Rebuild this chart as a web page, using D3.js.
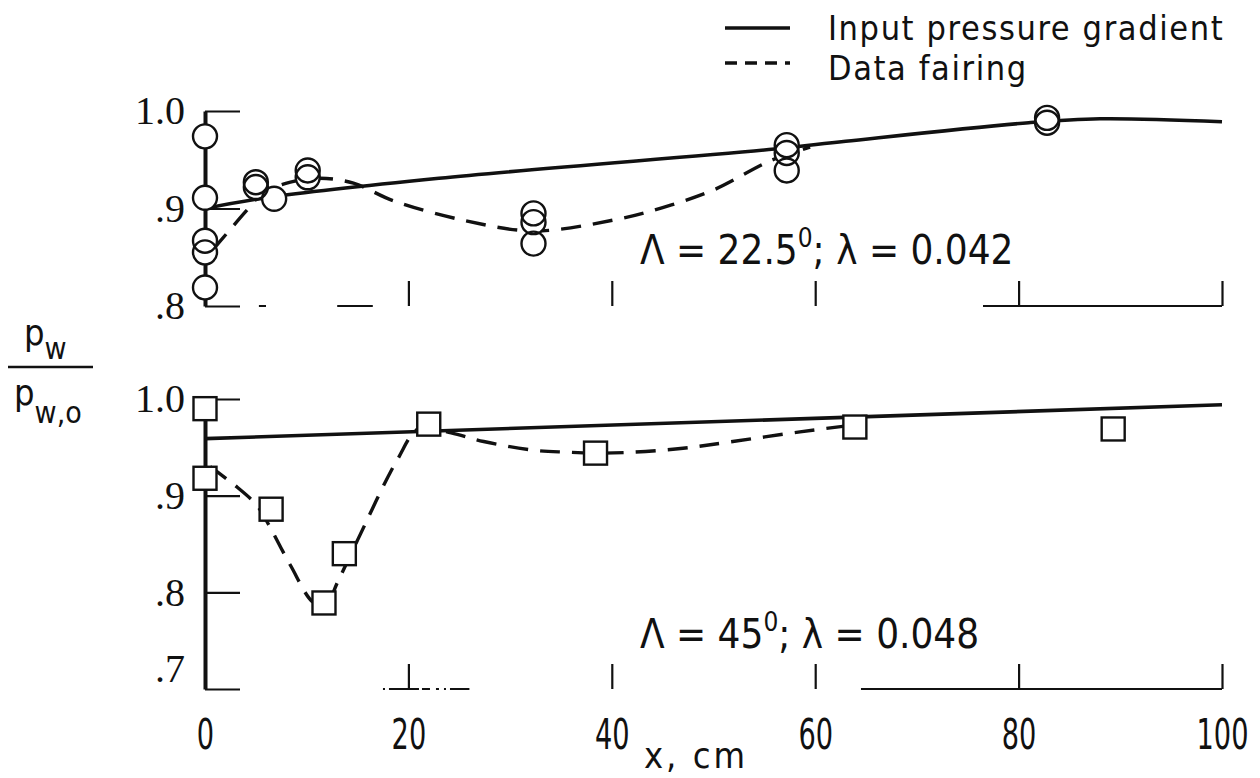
<!DOCTYPE html>
<html>
<head>
<meta charset="utf-8">
<script src="https://cdn.jsdelivr.net/npm/d3@7"></script>
<style>
  body { margin: 0; background: #fff; }
  svg text { fill: #111; }
  .cond { font-family: "DejaVu Sans Condensed", "Liberation Sans Narrow", "DejaVu Sans", sans-serif; font-stretch: condensed; }
  .serif { font-family: "Liberation Serif", "DejaVu Serif", serif; }
</style>
</head>
<body>
<svg id="chart" width="1260" height="778"></svg>
<script>
// upper panel: sweep 22.5 deg, lambda 0.042
const topPtsX = [0, 0, 0, 0, 0, 5.0, 5.0, 6.8, 10.1, 10.1, 32.3, 32.3, 32.3, 57.2, 57.2, 57.2, 82.8, 82.8];
const topPtsY = [0.974, 0.911, 0.867, 0.855, 0.819, 0.927, 0.922, 0.910, 0.939, 0.932, 0.895, 0.886, 0.864, 0.965, 0.957, 0.939, 0.993, 0.988];
const topInputX = [0, 6, 23, 56, 63, 81, 88, 100];
const topInputY = [0.900, 0.911, 0.931, 0.961, 0.969, 0.988, 0.992, 0.989];
const topFairX = [0.8, 4.1, 5.7, 8.4, 11.3, 14.6, 18.5, 25.4, 32.3, 40.1, 45.0, 50.0, 55.6, 59.5];
const topFairY = [0.858, 0.898, 0.916, 0.927, 0.931, 0.926, 0.908, 0.888, 0.877, 0.888, 0.901, 0.919, 0.949, 0.963];

// lower panel: sweep 45 deg, lambda 0.048
const botPtsX = [0, 0, 6.5, 11.7, 13.7, 22.0, 38.4, 63.9, 89.3];
const botPtsY = [0.990, 0.918, 0.886, 0.789, 0.840, 0.974, 0.944, 0.971, 0.969];
const botInputX = [0, 100];
const botInputY = [0.959, 0.994];
const botFairX = [0.5, 2.9, 5.1, 6.1, 8.4, 10.6, 11.8, 13.1, 15.0, 18.9, 21.1, 24.2, 27.4, 32.3, 35.6, 38.5, 42.1, 47.0, 51.9, 58.5, 62.9];
const botFairY = [0.930, 0.911, 0.890, 0.873, 0.828, 0.790, 0.786, 0.812, 0.854, 0.937, 0.970, 0.965, 0.956, 0.947, 0.945, 0.944, 0.945, 0.949, 0.956, 0.966, 0.972];

const xTicks = [0, 20, 40, 60, 80, 100];
const topYTicks = [0.8, 0.9, 1.0];
const botYTicks = [0.7, 0.8, 0.9, 1.0];
const yTickLabels = { 0.7: '.7', 0.8: '.8', 0.9: '.9', 1.0: '1.0' };

// the baseline only survives in pieces on the original sheet
const topBaseSegs = [[5.3, 6.0], [13.0, 16.5], [76.5, 100]];
const botBaseSegs = [[17.5, 26.0], [64.5, 100]];

const svg = d3.select('#chart');
const x = d3.scaleLinear().domain([0, 100]).range([205, 1222]);
const yTop = d3.scaleLinear().domain([0.8, 1.0]).range([306, 111]);
const yBot = d3.scaleLinear().domain([0.7, 1.0]).range([689, 399]);

function zip(xs, ys) { return xs.map((d, i) => [d, ys[i]]); }

function drawPanel(y, yTicks, ptsX, ptsY, inputX, inputY, fairX, fairY, baseSegs, marker, showXLabels) {
  const g = svg.append('g');

  // x axis: ticks point up, no domain line
  const xAxis = g.append('g')
    .attr('transform', `translate(0,${y.range()[0]})`)
    .call(d3.axisBottom(x).tickValues(xTicks).tickSizeInner(-25).tickSizeOuter(0).tickPadding(30)
      .tickFormat(showXLabels ? d3.format('d') : () => ''));
  xAxis.select('.domain').remove();
  xAxis.selectAll('.tick line').attr('stroke', '#111').attr('stroke-width', 2.2);
  // narrow lettering for the tick numbers
  xAxis.selectAll('.tick text').attr('class', 'cond').attr('font-size', 42)
    .attr('transform', 'scale(0.72,1)');

  g.selectAll('.base').data(baseSegs).enter().append('line')
    .attr('x1', d => x(d[0])).attr('x2', d => x(d[1]))
    .attr('y1', y.range()[0]).attr('y2', y.range()[0])
    .attr('stroke', '#111').attr('stroke-width', 2)
    .attr('stroke-dasharray', (d, i) => (i === 0 && baseSegs.length < 3) ? '2,4,30,3,8,6,3,5' : null);

  // y axis: ticks point into the plot
  const yAxis = g.append('g')
    .attr('transform', `translate(${x(0)},0)`)
    .call(d3.axisLeft(y).tickValues(yTicks).tickSizeInner(-35).tickSizeOuter(0).tickPadding(20)
      .tickFormat(d => yTickLabels[d]));
  yAxis.select('.domain').attr('stroke', '#111').attr('stroke-width', 4);
  yAxis.selectAll('.tick line').attr('stroke', '#111').attr('stroke-width', 2.2);
  yAxis.selectAll('.tick text').attr('class', 'serif').attr('font-size', 40)
    .attr('dy', d => d === 0.7 ? '-0.2em' : '0.32em');

  const line = d3.line().x(d => x(d[0])).y(d => y(d[1])).curve(d3.curveCatmullRom.alpha(0.5));

  g.append('path').datum(zip(inputX, inputY))
    .attr('d', line).attr('fill', 'none').attr('stroke', '#111').attr('stroke-width', 3.6);
  g.append('path').datum(zip(fairX, fairY))
    .attr('d', line).attr('fill', 'none').attr('stroke', '#111').attr('stroke-width', 3.4)
    .attr('stroke-dasharray', '20,12');

  const pts = zip(ptsX, ptsY);
  // white fill first so lines stop at the symbols, then outlines on top
  [['#fff', 'none'], ['none', '#111']].forEach(([fill, stroke]) => {
    if (marker === 'circle') {
      g.append('g').selectAll('circle').data(pts).enter().append('circle')
        .attr('cx', d => x(d[0])).attr('cy', d => y(d[1])).attr('r', 12)
        .attr('fill', fill).attr('stroke', stroke).attr('stroke-width', 2.4);
    } else {
      g.append('g').selectAll('rect').data(pts).enter().append('rect')
        .attr('x', d => x(d[0]) - 11.5).attr('y', d => y(d[1]) - 11.5)
        .attr('width', 23).attr('height', 23)
        .attr('fill', fill).attr('stroke', stroke).attr('stroke-width', 2.4);
    }
  });
  return g;
}

drawPanel(yTop, topYTicks, topPtsX, topPtsY, topInputX, topInputY, topFairX, topFairY, topBaseSegs, 'circle', false);
drawPanel(yBot, botYTicks, botPtsX, botPtsY, botInputX, botInputY, botFairX, botFairY, botBaseSegs, 'square', true);

// case labels
function caseLabel(px, py, sweep, lam) {
  const t = svg.append('text').attr('class', 'cond').attr('font-size', 40).attr('x', px).attr('y', py);
  t.append('tspan').text(`\u039B = ${sweep}`);
  t.append('tspan').attr('font-size', 26).attr('dy', -17).text('0');
  t.append('tspan').attr('dy', 17).text(`; \u03BB = ${lam}`);
}
caseLabel(640, 264, '22.5', '0.042');
caseLabel(640, 648, '45', '0.048');

// legend
const legend = svg.append('g');
legend.append('line').attr('x1', 725).attr('x2', 790).attr('y1', 28).attr('y2', 28)
  .attr('stroke', '#111').attr('stroke-width', 3.6);
legend.append('line').attr('x1', 725).attr('x2', 790).attr('y1', 63).attr('y2', 63)
  .attr('stroke', '#111').attr('stroke-width', 3.4).attr('stroke-dasharray', '12,8');
legend.append('text').attr('class', 'cond').attr('font-size', 34).attr('letter-spacing', 1.6)
  .attr('x', 828).attr('y', 40).text('Input pressure gradient');
legend.append('text').attr('class', 'cond').attr('font-size', 34).attr('letter-spacing', 1.6)
  .attr('x', 828).attr('y', 80).text('Data fairing');

// x axis title
svg.append('text').attr('class', 'cond').attr('font-size', 36).attr('text-anchor', 'middle')
  .attr('letter-spacing', 3)
  .attr('x', 696).attr('y', 768).text('x, cm');

// y axis title as a fraction p_w / p_w,o
const yt = svg.append('g').attr('class', 'cond');
const num = yt.append('text').attr('font-size', 36).attr('x', 24).attr('y', 345);
num.append('tspan').text('p');
num.append('tspan').attr('font-size', 30).attr('dy', 14).text('w');
yt.append('line').attr('x1', 8).attr('x2', 93).attr('y1', 367).attr('y2', 367)
  .attr('stroke', '#111').attr('stroke-width', 2.6);
const den = yt.append('text').attr('font-size', 36).attr('x', 14).attr('y', 405);
den.append('tspan').text('p');
den.append('tspan').attr('font-size', 30).attr('dy', 18).text('w,o');
</script>
</body>
</html>
